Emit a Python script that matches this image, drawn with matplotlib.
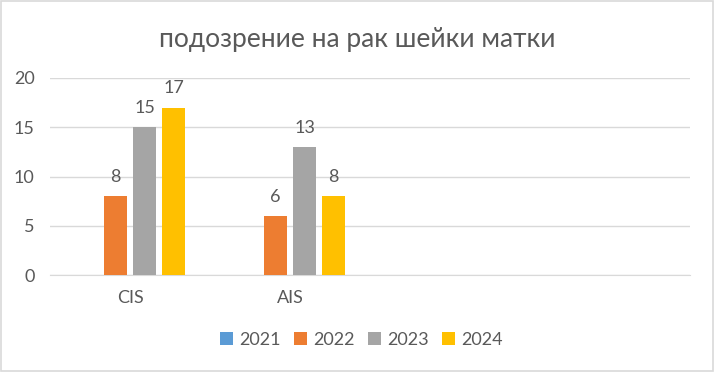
import numpy as np
import matplotlib.pyplot as plt
from matplotlib.patches import Patch

categories = ["CIS", "AIS", "", ""]
years = ["2021", "2022", "2023", "2024"]
values_2021 = [np.nan, np.nan, np.nan, np.nan]
values_2022 = [8, 6, np.nan, np.nan]
values_2023 = [15, 13, np.nan, np.nan]
values_2024 = [17, 8, np.nan, np.nan]
colors = ["#5B9BD5", "#ED7D31", "#A5A5A5", "#FFC000"]

title = "подозрение на рак шейки матки"
text_color = "#595959"
fonts = ["Lato", "Noto Sans", "DejaVu Sans"]
plt.rcParams["font.family"] = fonts

fig = plt.figure(figsize=(7.14, 3.72), dpi=100)
fig.patch.set_facecolor("white")
# chart border
fig.patches.append(plt.Rectangle((0.002, 0.004), 0.996, 0.992, transform=fig.transFigure,
                                 fill=False, edgecolor="#D9D9D9", linewidth=1.2))

ax = fig.add_axes([50 / 714, 1 - 275 / 372, 640 / 714, 197 / 372])

x = np.arange(len(categories))
pitch = 29 / 160
width = 23 / 160
series = [values_2021, values_2022, values_2023, values_2024]
for i, (vals, col) in enumerate(zip(series, colors)):
    pos = x + (i - 1.5) * pitch
    ax.bar(pos, vals, width=width, color=col, zorder=3)
    for p, v in zip(pos, vals):
        if not np.isnan(v):
            ax.annotate(f"{v:g}", (p, v), xytext=(0, 8), textcoords="offset points",
                        ha="center", va="bottom", fontsize=13, color=text_color)

ax.set_xlim(-0.5, len(categories) - 0.5)
ax.set_ylim(0, 20)
ax.set_yticks([0, 5, 10, 15, 20])
ax.yaxis.grid(True, color="#D9D9D9", linewidth=1, zorder=0)
ax.set_xticks(x)
ax.set_xticklabels(categories)
ax.tick_params(axis="both", length=0, labelsize=13, labelcolor=text_color)
ax.tick_params(axis="x", pad=11)
ax.tick_params(axis="y", pad=11)
for s in ["top", "right", "left"]:
    ax.spines[s].set_visible(False)
ax.spines["bottom"].set_color("#D9D9D9")

fig.text(0.5, 1 - 40 / 372, title, ha="center", va="center", fontsize=19, color=text_color)

handles = [Patch(facecolor=c, edgecolor="none") for c in colors]
fig.legend(handles, years, loc="center", bbox_to_anchor=(0.506, 1 - 340 / 372), ncol=4,
           frameon=False, fontsize=13, labelcolor=text_color, handlelength=0.7,
           handleheight=0.7, handletextpad=0.35, columnspacing=0.75)

fig.savefig("out.png", dpi=100)
